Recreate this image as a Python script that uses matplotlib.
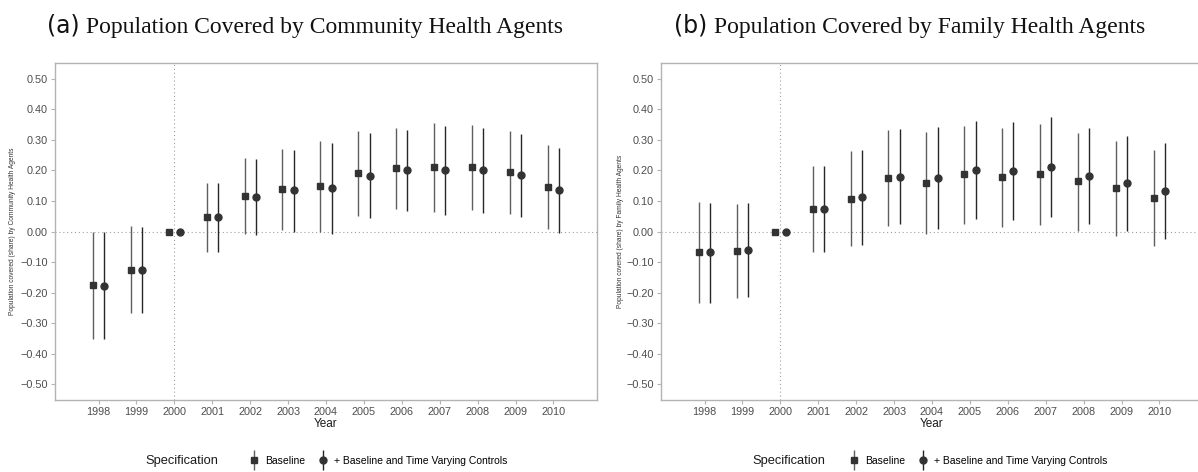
import numpy as np
import matplotlib
matplotlib.use("Agg")
import matplotlib.pyplot as plt
from matplotlib.lines import Line2D
from matplotlib.ticker import FuncFormatter
from matplotlib.offsetbox import TextArea, HPacker, AnchoredOffsetbox

plt.rcParams["font.family"] = ["Liberation Sans", "DejaVu Sans"]

years = np.arange(1998, 2011)

# (a) community health agents: point estimate, lower and upper CI
cha_base = [-0.175, -0.126, 0.0, 0.048, 0.115, 0.139, 0.149, 0.191, 0.207, 0.210, 0.210, 0.194, 0.145]
cha_base_lo = [-0.351, -0.266, 0.0, -0.066, -0.009, 0.004, 0.000, 0.050, 0.073, 0.064, 0.070, 0.057, 0.008]
cha_base_hi = [0.000, 0.018, 0.0, 0.160, 0.240, 0.270, 0.297, 0.329, 0.340, 0.354, 0.350, 0.330, 0.283]
cha_ctrl = [-0.177, -0.127, 0.0, 0.046, 0.114, 0.136, 0.141, 0.183, 0.200, 0.200, 0.202, 0.184, 0.135]
cha_ctrl_lo = [-0.352, -0.268, 0.0, -0.068, -0.011, 0.000, -0.009, 0.043, 0.066, 0.055, 0.062, 0.048, -0.005]
cha_ctrl_hi = [0.000, 0.016, 0.0, 0.159, 0.239, 0.268, 0.291, 0.322, 0.333, 0.345, 0.340, 0.320, 0.272]

# (b) family health agents
fha_base = [-0.066, -0.063, 0.0, 0.073, 0.108, 0.175, 0.158, 0.187, 0.178, 0.187, 0.165, 0.142, 0.109]
fha_base_lo = [-0.234, -0.218, 0.0, -0.068, -0.049, 0.018, -0.009, 0.025, 0.015, 0.022, 0.003, -0.014, -0.049]
fha_base_hi = [0.096, 0.090, 0.0, 0.214, 0.265, 0.331, 0.327, 0.346, 0.339, 0.352, 0.323, 0.296, 0.268]
fha_ctrl = [-0.068, -0.061, 0.0, 0.075, 0.112, 0.180, 0.175, 0.202, 0.197, 0.210, 0.183, 0.158, 0.133]
fha_ctrl_lo = [-0.234, -0.216, 0.0, -0.066, -0.044, 0.024, 0.008, 0.042, 0.037, 0.048, 0.025, 0.003, -0.025]
fha_ctrl_hi = [0.095, 0.092, 0.0, 0.216, 0.268, 0.335, 0.342, 0.362, 0.358, 0.374, 0.340, 0.313, 0.291]

panels = [
    ("(a)", "Population Covered by Community Health Agents",
     "Population covered (share) by Community Health Agents",
     cha_base, cha_base_lo, cha_base_hi, cha_ctrl, cha_ctrl_lo, cha_ctrl_hi),
    ("(b)", "Population Covered by Family Health Agents",
     "Population covered (share) by Family Health Agents",
     fha_base, fha_base_lo, fha_base_hi, fha_ctrl, fha_ctrl_lo, fha_ctrl_hi),
]

W, H = 1198, 472
fig = plt.figure(figsize=(W / 100, H / 100), dpi=100)

axes_px = [(55, 63, 542, 337), (661, 63, 542, 337)]   # left, top, width, height
title_x = [305, 910]
ylab_x = [13, 621]
legend_spec_x = [182, 789]
legend_keys_x = [378, 978]

BASE_LINE = "#5e5e5e"
CTRL_LINE = "#262626"
MARK = "#333333"
FRAME = "#b3b3b3"
off = 0.15


def fmt_tick(v, pos):
    s = f"{abs(v):.2f}"
    return s if round(v, 3) >= 0 else "\u2212" + s


for i, (tag, title, ylab, b, blo, bhi, c, clo, chi) in enumerate(panels):
    l, t, w, h = axes_px[i]
    ax = fig.add_axes([l / W, 1 - (t + h) / H, w / W, h / H])

    ax.axhline(0, color="#a0a0a0", ls=(0, (1, 2.5)), lw=0.8, zorder=1)
    ax.axvline(2000, color="#a0a0a0", ls=(0, (1, 2.5)), lw=0.8, zorder=1)

    xb = years - off
    xc = years + off
    ax.vlines(xb, blo, bhi, color=BASE_LINE, lw=1.0, zorder=2)
    ax.vlines(xc, clo, chi, color=CTRL_LINE, lw=1.0, zorder=2)
    ax.plot(xb, b, ls="none", marker="s", ms=4.2, color=MARK, zorder=3)
    ax.plot(xc, c, ls="none", marker="o", ms=5.0, color=MARK, zorder=3)

    ax.set_xlim(1996.85, 2011.15)
    ax.set_ylim(-0.552, 0.552)
    ax.set_xticks(years)
    ax.set_xticklabels([str(y) for y in years])
    ax.set_yticks(np.round(np.arange(-0.5, 0.51, 0.1), 2))
    ax.yaxis.set_major_formatter(FuncFormatter(fmt_tick))
    ax.tick_params(axis="both", labelsize=7.8, labelcolor="#4d4d4d", color=FRAME,
                   length=3, width=0.8, pad=2)
    for s in ax.spines.values():
        s.set_color(FRAME)
        s.set_linewidth(1.0)

    ax.set_xlabel("Year", fontsize=8.5, color="#1a1a1a", labelpad=1)
    fig.text(ylab_x[i] / W, 1 - (t + h / 2) / H, ylab, rotation=90, fontsize=4.8,
             color="#333333", ha="center", va="center")

    # panel caption: sans tag followed by serif title
    box = HPacker(children=[
        TextArea(tag, textprops=dict(fontsize=17, family="DejaVu Sans", color="#111111")),
        TextArea(title, textprops=dict(fontsize=17, family="Liberation Serif", color="#111111")),
    ], align="baseline", pad=0, sep=5)
    anchored = AnchoredOffsetbox(loc="center", child=box, frameon=False, pad=0,
                                 bbox_to_anchor=(title_x[i] / W, 1 - 26 / H),
                                 bbox_transform=fig.transFigure, borderpad=0)
    fig.add_artist(anchored)

    # legend row under each panel
    fig.text(legend_spec_x[i] / W, 1 - 461 / H, "Specification", fontsize=9.3,
             color="#1a1a1a", ha="center", va="center")
    h_base = (Line2D([], [], marker="|", ms=14, mew=1.0, color=BASE_LINE, ls="none"),
              Line2D([], [], marker="s", ms=4.2, color=MARK, ls="none"))
    h_ctrl = (Line2D([], [], marker="|", ms=14, mew=1.0, color=CTRL_LINE, ls="none"),
              Line2D([], [], marker="o", ms=5.0, color=MARK, ls="none"))
    fig.legend([h_base, h_ctrl], ["Baseline", "+ Baseline and Time Varying Controls"],
               loc="center", bbox_to_anchor=(legend_keys_x[i] / W, 1 - 461 / H),
               ncol=2, frameon=False, fontsize=7.5, handlelength=1.0,
               handletextpad=0.6, columnspacing=1.2, borderpad=0)

fig.savefig("out.png", dpi=100)
